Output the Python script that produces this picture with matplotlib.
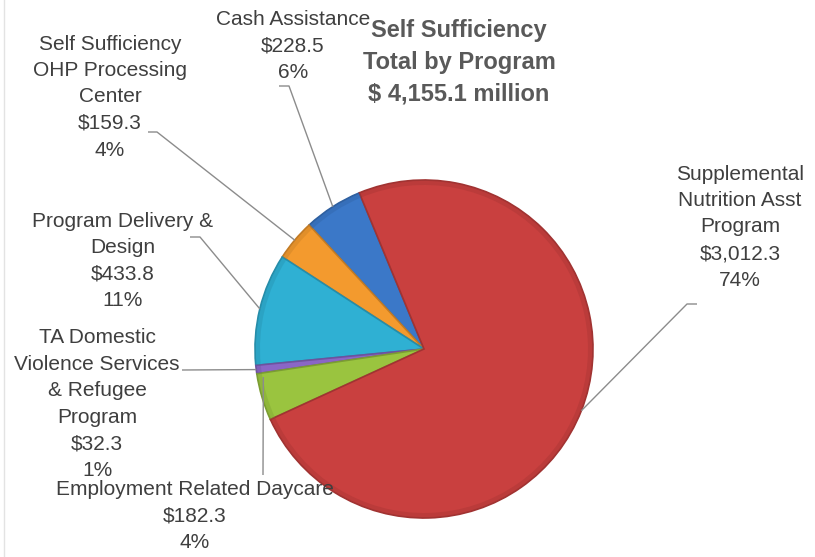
import numpy as np
import matplotlib
matplotlib.use("Agg")
import matplotlib.pyplot as plt
from matplotlib.colors import to_rgb

# data (order = counter-clockwise from the top of the red slice)
programs = ["Cash Assistance",
            "Self Sufficiency\nOHP Processing\nCenter",
            "Program Delivery &\nDesign",
            "TA Domestic\nViolence Services\n& Refugee\nProgram",
            "Employment Related Daycare",
            "Supplemental\nNutrition Asst\nProgram"]
amounts = [228.5, 159.3, 433.8, 32.3, 182.3, 3012.3]
pct_labels = ["6%", "4%", "11%", "1%", "4%", "74%"]
colors = ["#3B78C8", "#F39A2E", "#2FB0D3", "#8A66C6", "#9AC43F", "#C9403F"]
title = "Self Sufficiency\nTotal by Program\n$ 4,155.1 million"

W, H = 815, 557
fonts = ["Liberation Sans Narrow", "Liberation Sans", "DejaVu Sans"]
txt_col = "#3F3F3F"
line_col = "#8C8C8C"

# layout in pixel units (y measured from the top)
pie_cx, pie_cy, pie_r = 424, 349, 169
start = 112.5
label_pos = [(293, 46), (110, 97), (123, 261), (97, 404), (195, 516), (740, 227)]
# leader line: points from label side towards pie (the pie end is added below)
leader_pts = [[(279, 86), (289, 86)],
              [(148, 132), (157, 132)],
              [(190, 237), (200, 237)],
              [(182, 370)],
              [(263, 475)],
              [(697, 304), (687, 304)]]
# daycare leader drops straight down into the green slice
anchor_override = {4: (189.9, 0.965)}


def py(y):
    return H - y


def shade(c, f):
    r, g, b = to_rgb(c)
    return (r * f, g * f, b * f)


fig = plt.figure(figsize=(W / 100, H / 100), dpi=100)
ax = fig.add_axes([0, 0, 1, 1])

wedges, _ = ax.pie(amounts, colors=colors, startangle=start, counterclock=True,
                   center=(pie_cx, py(pie_cy)), radius=pie_r,
                   wedgeprops=dict(linewidth=1.2))
for w, c in zip(wedges, colors):
    w.set_edgecolor(shade(c, 0.8))

# darker rim for a bit of the bevelled look
ax.pie(amounts, colors=[shade(c, 0.8) for c in colors], startangle=start,
       counterclock=True, center=(pie_cx, py(pie_cy)), radius=pie_r,
       wedgeprops=dict(width=5, linewidth=0, alpha=0.35))

ax.set_xlim(0, W)
ax.set_ylim(0, H)
ax.set_aspect("auto")
ax.axis("off")

for i, w in enumerate(wedges):
    ang, rf = anchor_override.get(i, ((w.theta1 + w.theta2) / 2, 1.0))
    ex = pie_cx + rf * pie_r * np.cos(np.radians(ang))
    ey = py(pie_cy) + rf * pie_r * np.sin(np.radians(ang))
    xs = [p[0] for p in leader_pts[i]] + [ex]
    ys = [py(p[1]) for p in leader_pts[i]] + [ey]
    ax.plot(xs, ys, color=line_col, lw=1, solid_capstyle="butt")

    lx, ly = label_pos[i]
    s = f"{programs[i]}\n${amounts[i]:,.1f}\n{pct_labels[i]}"
    ax.text(lx, py(ly), s, ha="center", va="center", multialignment="center",
            fontsize=15, color=txt_col, family=fonts, linespacing=1.5)

ax.text(459, py(62), title, ha="center", va="center", multialignment="center",
        fontsize=17, fontweight="bold", color="#595959", family=fonts,
        linespacing=1.48)

# faint frame line on the left like the source image
ax.plot([4, 4], [0, H], color="#E3E3E3", lw=1)

fig.savefig("out.png", dpi=100)
